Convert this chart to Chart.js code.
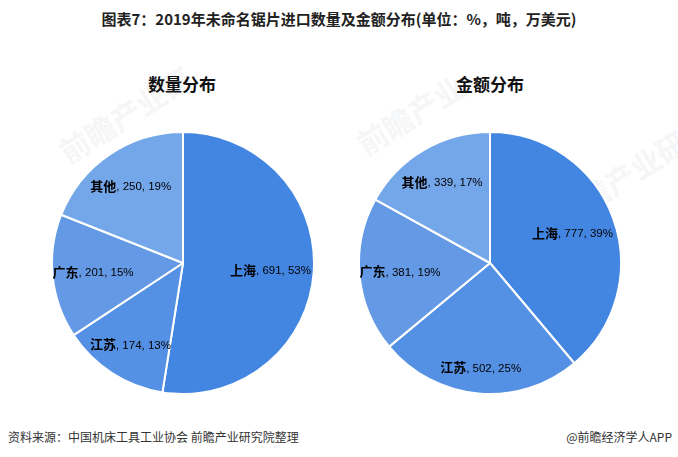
<!DOCTYPE html>
<html>
<head>
<meta charset="utf-8">
<script src="https://cdn.jsdelivr.net/npm/chart.js@4"></script>
<style>
  body { margin: 0; background: #fff; font-family: "Noto Sans CJK SC", sans-serif; }
  #wrap { position: relative; width: 678px; height: 457px; overflow: hidden; background: #fff; }
  .title { position: absolute; left: 0; width: 678px; top: 8px; text-align: center; font-size: 15px; font-weight: bold; color: #222; }
  .sub { position: absolute; top: 71px; width: 200px; text-align: center; font-size: 17px; font-weight: bold; color: #111; }
  .src { position: absolute; top: 428px; font-size: 12px; color: #333; }
  .wm { position: absolute; font-size: 30px; font-weight: bold; color: rgba(180,185,195,0.15); transform: rotate(-32deg); white-space: nowrap; }
  canvas { position: absolute; }
</style>
</head>
<body>
<div id="wrap">
  <div class="title">图表7：2019年未命名锯片进口数量及金额分布(单位：%，吨，万美元)</div>
  <div class="wm" style="left:50px;top:92px;">前瞻产业研</div>
  <div class="wm" style="left:350px;top:92px;">前瞻产业</div>
  <div class="wm" style="left:540px;top:140px;">前瞻产业研究院</div>
  <div class="sub" style="left:82px;">数量分布</div>
  <div class="sub" style="left:390px;">金额分布</div>
  <canvas id="c1" width="274" height="274" style="left:46px;top:126px;"></canvas>
  <canvas id="c2" width="274" height="274" style="left:353px;top:126px;"></canvas>
  <div class="src" style="left:8px;">资料来源：中国机床工具工业协会 前瞻产业研究院整理</div>
  <div class="src" style="right:6px;">@前瞻经济学人APP</div>
</div>
<script>
let regions = ["上海", "江苏", "广东", "其他"];
let qtyValues = [691, 174, 201, 250];
let amtValues = [777, 502, 381, 339];

let colors = ["#4386e1", "#5491e4", "#6499e6", "#74a7ea"];
// how far out each label sits, as part of the radius
let qtyLabelPos = [0.67, 0.74, 0.69, 0.71];
let amtLabelPos = [0.67, 0.8, 0.69, 0.72];

let labelPlugin = {
    id: "sliceLabels",
    afterDatasetsDraw(chart, args, opts) {
        let ctx = chart.ctx;
        let data = chart.data.datasets[0].data;
        let total = data.reduce((a, b) => a + b, 0);
        chart.getDatasetMeta(0).data.forEach((arc, i) => {
            let p = arc.getProps(["x", "y", "startAngle", "endAngle", "outerRadius"], true);
            let mid = (p.startAngle + p.endAngle) / 2;
            let r = p.outerRadius * opts.pos[i];
            let lx = p.x + Math.cos(mid) * r;
            let ly = p.y + Math.sin(mid) * r;
            let name = chart.data.labels[i];
            let rest = ", " + data[i] + ", " + Math.round(data[i] / total * 100) + "%";
            ctx.save();
            ctx.fillStyle = "#000";
            ctx.textBaseline = "middle";
            ctx.font = "bold 13px 'Noto Sans CJK SC'";
            let w1 = ctx.measureText(name).width;
            ctx.font = "11.5px 'Liberation Sans'";
            let w2 = ctx.measureText(rest).width;
            let x0 = lx - (w1 + w2) / 2;
            ctx.font = "bold 13px 'Noto Sans CJK SC'";
            ctx.fillText(name, x0, ly);
            ctx.font = "11.5px 'Liberation Sans'";
            ctx.fillText(rest, x0 + w1, ly + 1);
            ctx.restore();
        });
    }
};

function makePie(id, values, pos) {
    new Chart(document.getElementById(id), {
        type: "pie",
        data: {
            labels: regions,
            datasets: [{
                data: values,
                backgroundColor: colors,
                borderColor: "#fff",
                borderWidth: 2
            }]
        },
        options: {
            responsive: false,
            animation: false,
            layout: { padding: 5 },
            plugins: {
                legend: { display: false },
                tooltip: { enabled: false },
                sliceLabels: { pos: pos }
            }
        },
        plugins: [labelPlugin]
    });
}

makePie("c1", qtyValues, qtyLabelPos);
makePie("c2", amtValues, amtLabelPos);
</script>
</body>
</html>
